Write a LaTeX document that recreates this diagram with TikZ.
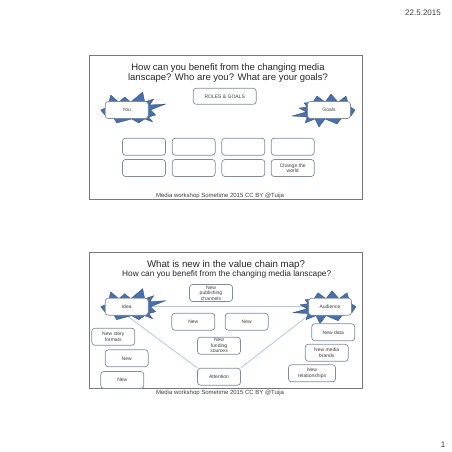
\documentclass[tikz,border=0pt]{standalone}
\usepackage{fontspec}
\setmainfont{Liberation Sans}
\usepackage{tikz}
\usetikzlibrary{positioning, backgrounds}
\definecolor{BoxGray}{RGB}{125, 140, 160}
\definecolor{BurstBlue}{RGB}{72, 112, 172}
\definecolor{LinkBlue}{RGB}{180, 198, 222}
\definecolor{FrameGray}{RGB}{120, 120, 120}
\definecolor{TextGray}{RGB}{60, 60, 60}

\begin{document}
\begin{tikzpicture}[x=1pt, y=-1pt,
		box/.style={draw=BoxGray, line width=0.7pt, rounded corners=3pt, fill=white, minimum width=43pt, minimum height=17pt, inner sep=1pt, align=center, font=\fontsize{5}{5.5}\selectfont, text=TextGray},
		burst/.style={fill=BurstBlue, draw=BurstBlue!70!black, line width=0.3pt},
		link/.style={draw=LinkBlue, line width=0.8pt},
		slide/.style={draw=FrameGray, line width=1pt},
		title/.style={align=center, inner sep=0pt, text=black!85}]
	\useasboundingbox (0,0) rectangle (452,452);

	% Cabecera y pie de pagina
	\node[font=\fontsize{8}{9}\selectfont, text=TextGray] (date) at (423,13) {22.5.2015};
	\node[font=\fontsize{8}{9}\selectfont, text=TextGray] (page) at (443,445) {1};

	% Diapositiva 1
	\draw[slide] (89,56) rectangle (362,199);
	\node[title, font=\fontsize{9.5}{10}\selectfont] (t1) at (228,72.7) {How can you benefit from the changing media\\lanscape? Who are you? What are your goals?};
	\node[box, minimum width=63pt, minimum height=16pt] (roles) at (224.7,96.3) {ROLES \& GOALS};
	\node[box] (you) at (126.7,110) {You};
	\node[box] (goals) at (329,110) {Goals};
	\node[box] (r1c1) at (144,146.7) {};
	\node[box] (r1c2) at (193.7,146.7) {};
	\node[box] (r1c3) at (243.3,146.7) {};
	\node[box] (r1c4) at (292.7,146.7) {};
	\node[box] (r2c1) at (144,168) {};
	\node[box] (r2c2) at (193.7,168) {};
	\node[box] (r2c3) at (243.3,168) {};
	\node[box] (r2c4) at (292.7,168) {Change the\\world};
	\node[font=\fontsize{6}{7}\selectfont, text=TextGray] (foot1) at (220,195.7) {Media workshop Sometime 2015 CC BY @Tuija};

	% Diapositiva 2
	\draw[slide] (89,252) rectangle (362,388);
	\node[title, font=\fontsize{9.7}{10}\selectfont] (t2) at (226,265) {What is new in the value chain map?};
	\node[title, font=\fontsize{8.3}{9}\selectfont] (t3) at (226.7,274.5) {How can you benefit from the changing media lanscape?};
	\node[box] (publish) at (211,293) {New\\publishing\\channels};
	\node[box] (idea) at (126.7,306.7) {Idea};
	\node[box] (audience) at (330,306.7) {Audience};
	\node[box] (newa) at (193.3,321.7) {New};
	\node[box] (newb) at (246.7,321.7) {New};
	\node[box] (data) at (333.3,332.3) {New data};
	\node[box] (story) at (113.3,336.7) {New story\\formats};
	\node[box] (funding) at (219,345.7) {New\\funding\\sources};
	\node[box] (brands) at (326.7,352.8) {New media\\brands};
	\node[box] (newc) at (126.7,358.3) {New};
	\node[box, minimum width=47pt] (relations) at (312,373.3) {New\\relationships};
	\node[box] (newd) at (122.3,380) {New};
	\node[box] (attention) at (219,376.7) {Attention};
	\node[font=\fontsize{6}{7}\selectfont, text=TextGray] (foot2) at (220,393.3) {Media workshop Sometime 2015 CC BY @Tuija};

	\begin{scope}[on background layer]
		\draw[link] (idea.east) -- (audience.west);
		\draw[link] (idea.south) -- (attention.north west);
		\draw[link] (attention.north east) -- (audience.south west);
		% Estrellas
		\foreach \n in {you, idea}
			\fill[burst, shift={(\n.center)}] (-26,0) -- (-19,-3) -- (-16,-15) -- (-8,-8) -- (-2,-13) -- (4,-8) -- (16,-18) -- (18,-8) -- (27,-11) -- (23,-5) -- (39,-6) -- (24,0) -- (29,5) -- (22,7) -- (26,12) -- (18,9) -- (12,13) -- (5,9) -- (-10,13) -- (-13,8) -- (-22,5) -- cycle;
		\foreach \n in {goals, audience}
			\fill[burst, shift={(\n.center)}] (26,0) -- (20,-4) -- (17,-14) -- (9,-8) -- (2,-16) -- (-4,-8) -- (-12,-14) -- (-16,-8) -- (-25,-7) -- (-22,-3) -- (-30,-2) -- (-23,2) -- (-37,6) -- (-22,7) -- (-24,13) -- (-14,9) -- (-10,17) -- (-4,9) -- (8,14) -- (12,9) -- (22,6) -- cycle;
	\end{scope}
\end{tikzpicture}
\end{document}
